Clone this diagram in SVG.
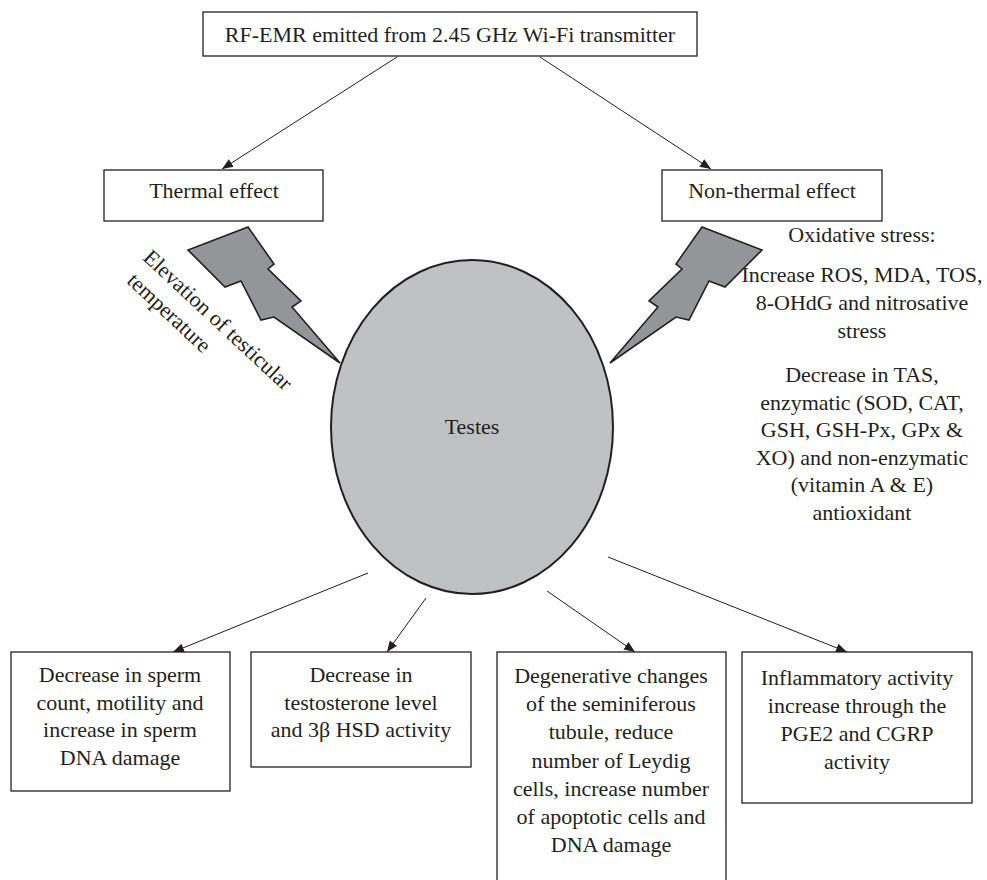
<svg xmlns="http://www.w3.org/2000/svg" width="987" height="880" viewBox="0 0 987 880">
<defs>
<style>
.box{fill:#fff;stroke:#231f20;stroke-width:1.3}
.t{font-family:"Liberation Serif","Times New Roman",serif;font-size:22px;fill:#231f20;text-anchor:middle}
.tl{font-family:"Liberation Serif","Times New Roman",serif;font-size:22px;fill:#231f20}
.conn{stroke:#231f20;stroke-width:1;fill:none;marker-end:url(#ah)}
.bolt{fill:#939598;stroke:#231f20;stroke-width:1.6;stroke-linejoin:miter}
</style>
<marker id="ah" markerUnits="userSpaceOnUse" markerWidth="12" markerHeight="10" refX="11" refY="5" orient="auto">
<path d="M0,0.5 L11,5 L0,9.5 z" fill="#231f20"/>
</marker>
<polygon id="boltshape" points="248,227 274,264 268,269 301,301 292,307 340,363 274,317 261,320 241,281 225,287 188,250"/>
</defs>
<rect width="987" height="880" fill="#fff"/>

<g id="connectors">
<line class="conn" x1="397" y1="57" x2="222" y2="169"/>
<line class="conn" x1="540" y1="57" x2="711" y2="169"/>
<line class="conn" x1="368" y1="573" x2="173" y2="652"/>
<line class="conn" x1="426" y1="598" x2="387" y2="652"/>
<line class="conn" x1="547" y1="591" x2="635" y2="652"/>
<line class="conn" x1="608" y1="557" x2="847" y2="652"/>
</g>

<g id="source">
<rect class="box" x="203" y="12" width="494" height="44"/>
<text class="t" x="450" y="42">RF-EMR emitted from 2.45 GHz Wi-Fi transmitter</text>
</g>

<g id="thermal">
<rect class="box" x="104" y="170" width="219" height="51"/>
<text class="t" x="214" y="198">Thermal effect</text>
</g>

<g id="nonthermal">
<rect class="box" x="662" y="170" width="220" height="51"/>
<text class="t" x="772" y="198">Non-thermal effect</text>
</g>

<g id="bolt-left">
<use href="#boltshape" class="bolt"/>
</g>
<g id="bolt-right">
<use href="#boltshape" class="bolt" transform="translate(950,0) scale(-1,1)"/>
</g>

<g id="thermal-label">
<text class="tl" transform="translate(142,259) rotate(43)"><tspan x="0" y="0">Elevation of testicular</tspan><tspan x="4" y="28">temperature</tspan></text>
</g>

<g id="testes">
<ellipse cx="472" cy="427" rx="141" ry="167" fill="#c0c1c3" stroke="#231f20" stroke-width="2"/>
<text class="t" x="472" y="434">Testes</text>
</g>

<g id="oxidative">
<text class="t" x="862" y="242">Oxidative stress:</text>
<text class="t"><tspan x="862" y="282">Increase ROS, MDA, TOS,</tspan><tspan x="862" y="310">8-OHdG and nitrosative</tspan><tspan x="862" y="338">stress</tspan></text>
<text class="t"><tspan x="862" y="382">Decrease in TAS,</tspan><tspan x="862" y="409.5">enzymatic (SOD, CAT,</tspan><tspan x="862" y="437">GSH, GSH-Px, GPx &amp;</tspan><tspan x="862" y="464.5">XO) and non-enzymatic</tspan><tspan x="862" y="492">(vitamin A &amp; E)</tspan><tspan x="862" y="519.5">antioxidant</tspan></text>
</g>

<g id="sperm">
<rect class="box" x="11" y="652" width="219" height="139"/>
<text class="t"><tspan x="120" y="682">Decrease in sperm</tspan><tspan x="120" y="709.5">count, motility and</tspan><tspan x="120" y="737">increase in sperm</tspan><tspan x="120" y="764.5">DNA damage</tspan></text>
</g>

<g id="testosterone">
<rect class="box" x="251" y="652" width="220" height="115"/>
<text class="t"><tspan x="361" y="682">Decrease in</tspan><tspan x="361" y="709.5">testosterone level</tspan><tspan x="361" y="737">and 3β HSD activity</tspan></text>
</g>

<g id="degenerative">
<rect class="box" x="497" y="652" width="229" height="232"/>
<text class="t"><tspan x="611" y="683">Degenerative changes</tspan><tspan x="611" y="711">of the seminiferous</tspan><tspan x="611" y="739">tubule, reduce</tspan><tspan x="611" y="767.5">number of Leydig</tspan><tspan x="611" y="795.5">cells, increase number</tspan><tspan x="611" y="824">of apoptotic cells and</tspan><tspan x="611" y="852">DNA damage</tspan></text>
</g>

<g id="inflammatory">
<rect class="box" x="742" y="652" width="230" height="151"/>
<text class="t"><tspan x="857" y="685">Inflammatory activity</tspan><tspan x="857" y="713">increase through the</tspan><tspan x="857" y="741">PGE2 and CGRP</tspan><tspan x="857" y="768.5">activity</tspan></text>
</g>
</svg>
